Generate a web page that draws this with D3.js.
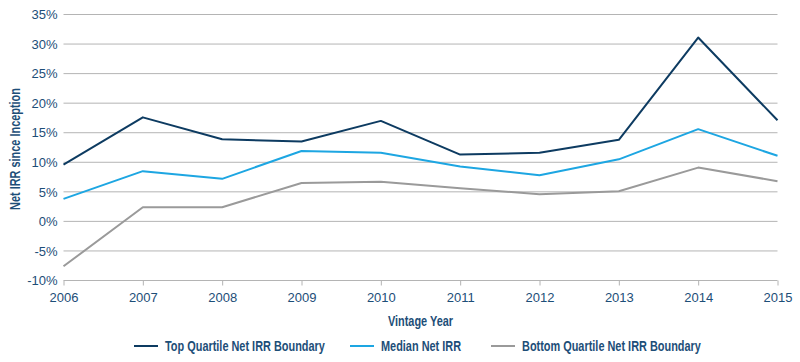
<!DOCTYPE html>
<html>
<head>
<meta charset="utf-8">
<script src="https://cdn.jsdelivr.net/npm/d3@7"></script>
<style>
  body { margin: 0; background: #fff; }
  .tick text { font-family: "Liberation Sans", Arial, sans-serif; font-size: 13px; fill: #1d4e78; }
  .title { font-family: "Liberation Sans", Arial, sans-serif; font-weight: bold; font-size: 14px; fill: #1d4e78; }
</style>
</head>
<body>
<div id="chart"></div>
<script>
var years = [2006, 2007, 2008, 2009, 2010, 2011, 2012, 2013, 2014, 2015];
var topQuartile = [9.6, 17.6, 13.9, 13.5, 17.0, 11.3, 11.6, 13.8, 31.1, 17.1];
var median = [3.8, 8.5, 7.2, 11.9, 11.6, 9.3, 7.8, 10.5, 15.6, 11.1];
var bottomQuartile = [-7.6, 2.4, 2.4, 6.5, 6.7, 5.6, 4.6, 5.1, 9.1, 6.8];
var yTicks = [-10, -5, 0, 5, 10, 15, 20, 25, 30, 35];

var series = [
  { name: 'Top Quartile Net IRR Boundary', values: topQuartile, color: '#0d3b61' },
  { name: 'Median Net IRR', values: median, color: '#1da6e2' },
  { name: 'Bottom Quartile Net IRR Boundary', values: bottomQuartile, color: '#9a9a9a' }
];

var width = 800, height = 362;
var narrow = 0.78; // fake a condensed bold face
var svg = d3.select('#chart').append('svg').attr('width', width).attr('height', height);

var x = d3.scaleLinear().domain([2006, 2015]).range([63.5, 777.5]);
var y = d3.scaleLinear().domain([-10, 35]).range([280.5, 14.5]);

// gridlines
svg.append('g').selectAll('line').data(yTicks.filter(function(d){ return d > -10 })).enter()
  .append('line')
  .attr('x1', x(2006)).attr('x2', x(2015))
  .attr('y1', function(d){ return y(d) }).attr('y2', function(d){ return y(d) })
  .attr('stroke', '#b4b4b4').attr('stroke-width', 1);

var yAxis = d3.axisLeft(y).tickValues(yTicks).tickSize(0).tickPadding(6).tickFormat(function(d){ return d + '%' });
svg.append('g').attr('transform', 'translate(' + x(2006) + ',0)').call(yAxis)
  .call(function(g){ g.select('.domain').remove() });

var xAxis = d3.axisBottom(x).tickValues(years).tickSize(5).tickPadding(7).tickFormat(d3.format('d'));
svg.append('g').attr('transform', 'translate(0,' + y(-10) + ')').call(xAxis)
  .call(function(g){
    g.select('.domain').attr('stroke', '#b4b4b4').attr('d', 'M' + x(2006) + ',0H' + x(2015));
    g.selectAll('.tick line').attr('stroke', '#b4b4b4');
  });

var line = d3.line()
  .x(function(d, i){ return x(years[i]) })
  .y(function(d){ return y(d) });

series.forEach(function(s){
  svg.append('path').datum(s.values)
    .attr('fill', 'none')
    .attr('stroke', s.color)
    .attr('stroke-width', 2)
    .attr('stroke-linejoin', 'round')
    .attr('d', line);
});

svg.append('g').attr('transform', 'translate(20,149) rotate(-90) scale(' + narrow + ',1)')
  .append('text').attr('class', 'title')
  .attr('text-anchor', 'middle')
  .text('Net IRR since Inception');

svg.append('g').attr('transform', 'translate(' + (x(2006) + x(2015)) / 2 + ',326) scale(' + narrow + ',1)')
  .append('text').attr('class', 'title')
  .attr('text-anchor', 'middle')
  .text('Vintage Year');

// legend
var legendX = [134, 350, 491];
series.forEach(function(s, i){
  var g = svg.append('g').attr('transform', 'translate(' + legendX[i] + ',346)');
  g.append('line').attr('x1', 0).attr('x2', 24).attr('y1', 0).attr('y2', 0)
    .attr('stroke', s.color).attr('stroke-width', 2);
  g.append('g').attr('transform', 'translate(31,5) scale(' + narrow + ',1)')
    .append('text').attr('class', 'title').text(s.name);
});
</script>
</body>
</html>
